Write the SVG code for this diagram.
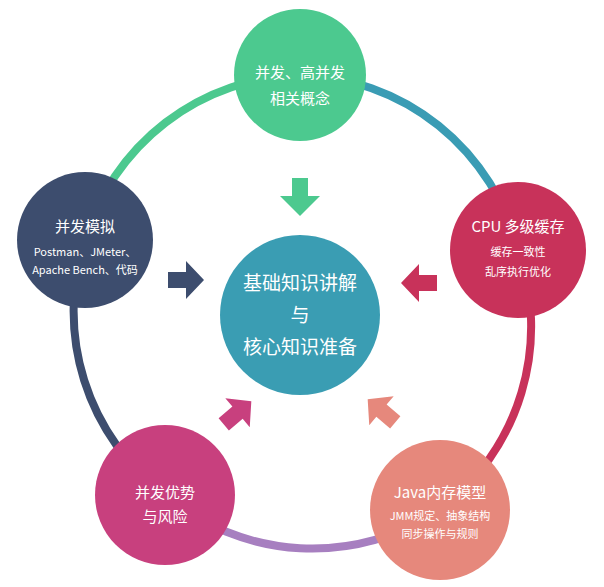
<svg xmlns="http://www.w3.org/2000/svg" width="604" height="587" viewBox="0 0 604 587">
<style>
text{font-family:"Noto Sans CJK SC","Noto Sans",sans-serif;fill:#fff;text-anchor:middle}
.ring{fill:none;stroke-width:8}
.t{font-size:15px}.s{font-size:11px}.c{font-size:19px}
</style>
<rect width="604" height="587" fill="#fff"/>
<g id="connectors">
<path class="ring" stroke="#4cc98f" d="M300,75 A230,230 0 0 0 85,240"/>
<path class="ring" stroke="#3a9cb4" d="M300,75 A230,230 0 0 1 518,250"/>
<path class="ring" stroke="#c8325a" d="M518,250 A230,230 0 0 1 440,510"/>
<path class="ring" stroke="#a77fc0" d="M440,510 A230,230 0 0 1 165,495"/>
<path class="ring" stroke="#3d4d6e" d="M165,495 A230,230 0 0 1 85,240"/>
<polygon fill="#4cc98f" points="292,178 308,178 308,196 320,196 300,216 280,196 292,196"/>
<polygon fill="#3d4d6e" points="168,272 186,272 186,261 204,280 186,299 186,288 168,288"/>
<polygon fill="#c8325a" points="437,275 419,275 419,264 401,283 419,302 419,291 437,291"/>
<polygon fill="#c8407e" transform="rotate(-40 236 414)" points="220,406 238,406 238,395 256,414 238,433 238,422 220,422"/>
<polygon fill="#e6887c" transform="rotate(-140 383 412)" points="367,404 385,404 385,393 403,412 385,431 385,420 367,420"/>
</g>
<g id="center"><circle cx="300" cy="315" r="80" fill="#3a9db3"/>
<text class="c" x="300" y="290">基础知识讲解</text><text class="c" x="300" y="322">与</text><text class="c" x="300" y="354">核心知识准备</text></g>
<g id="top"><circle cx="300" cy="75" r="66" fill="#4cc98f"/>
<text class="t" x="300" y="78">并发、高并发</text><text class="t" x="300" y="104">相关概念</text></g>
<g id="left"><circle cx="85" cy="240" r="68" fill="#3d4d6e"/>
<text class="t" x="85" y="232">并发模拟</text><text class="s" x="85" y="256">Postman、JMeter、</text><text class="s" x="85" y="274">Apache Bench、代码</text></g>
<g id="right"><circle cx="518" cy="250" r="68" fill="#c8325a"/>
<text class="t" x="518" y="232">CPU 多级缓存</text><text class="s" x="518" y="256">缓存一致性</text><text class="s" x="518" y="276">乱序执行优化</text></g>
<g id="bottomleft"><circle cx="165" cy="495" r="70" fill="#c8407e"/>
<text class="t" x="165" y="498">并发优势</text><text class="t" x="165" y="522">与风险</text></g>
<g id="bottomright"><circle cx="440" cy="510" r="70" fill="#e6887c"/>
<text class="t" x="440" y="498">Java内存模型</text><text class="s" x="440" y="520">JMM规定、抽象结构</text><text class="s" x="440" y="538">同步操作与规则</text></g>
</svg>
